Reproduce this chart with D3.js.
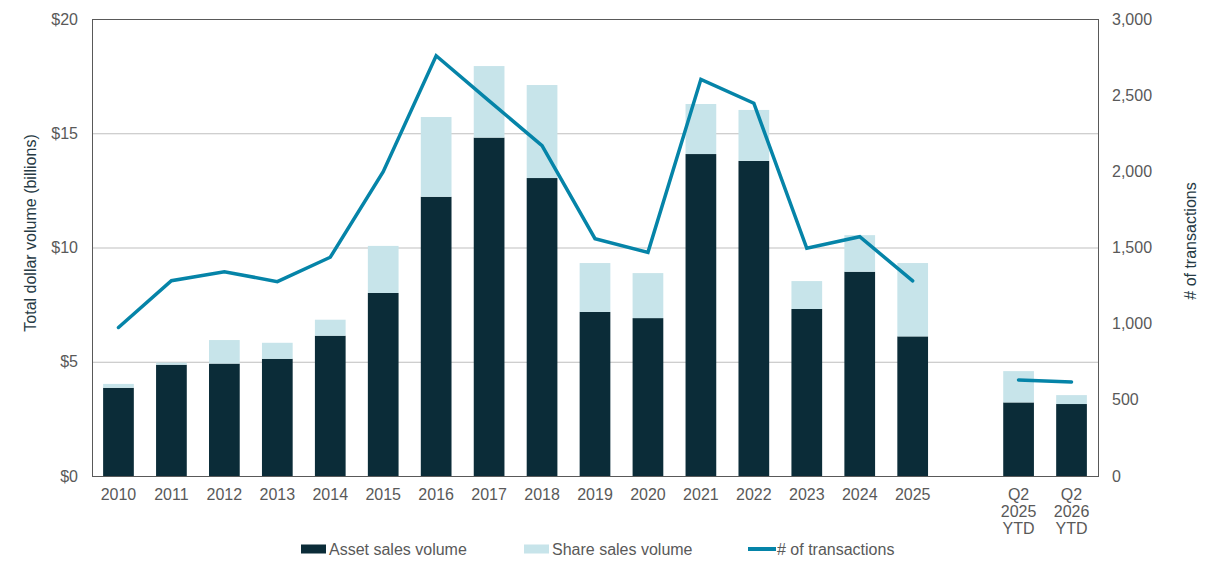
<!DOCTYPE html>
<html>
<head>
<meta charset="utf-8">
<script src="https://cdn.jsdelivr.net/npm/d3@7"></script>
<style>
  body { margin: 0; background: #fff; }
  text { font-family: "Liberation Sans", Arial, sans-serif; }
</style>
</head>
<body>
<script>
var width = 1221,
    height = 568;

// categories ("gap" is the empty slot between 2025 and the YTD bars)
var categories = ["2010", "2011", "2012", "2013", "2014", "2015", "2016", "2017", "2018",
                  "2019", "2020", "2021", "2022", "2023", "2024", "2025", "gap", "Q2 2025 YTD", "Q2 2026 YTD"];
var tickLabels = [["2010"], ["2011"], ["2012"], ["2013"], ["2014"], ["2015"], ["2016"], ["2017"], ["2018"],
                  ["2019"], ["2020"], ["2021"], ["2022"], ["2023"], ["2024"], ["2025"], [""],
                  ["Q2", "2025", "YTD"], ["Q2", "2026", "YTD"]];

// $ billions
var assetSales = [3.86, 4.87, 4.92, 5.13, 6.14, 8.01, 12.22, 14.81, 13.04, 7.18, 6.91, 14.09, 13.79, 7.31, 8.94, 6.11, null, 3.22, 3.15];
var shareSales = [0.17, 0.09, 1.03, 0.70, 0.70, 2.06, 3.49, 3.13, 4.07, 2.14, 1.97, 2.19, 2.23, 1.22, 1.60, 3.21, null, 1.37, 0.39];
// number of transactions
var transactions = [975, 1282, 1341, 1276, 1436, 1998, 2759, 2463, 2168, 1558, 1468, 2604, 2447, 1495, 1571, 1281, null, 631, 617];

var leftTicks = [0, 5, 10, 15, 20];
var rightTicks = [0, 500, 1000, 1500, 2000, 2500, 3000];

var margin = { top: 19, right: 123, bottom: 92, left: 92 };
var plotW = width - margin.left - margin.right,
    plotH = height - margin.top - margin.bottom;

var svg = d3.select("body")
            .append("svg")
            .attr("width", width)
            .attr("height", height);

var g = svg.append("g")
           .attr("transform", "translate(" + margin.left + "," + margin.top + ")");

var x = d3.scaleBand()
          .domain(categories)
          .range([0, plotW])
          .paddingInner(0.42)
          .paddingOuter(0.21);

var yLeft = d3.scaleLinear().domain([0, 20]).range([plotH, 0]);
var yRight = d3.scaleLinear().domain([0, 3000]).range([plotH, 0]);

// gridlines
g.selectAll(".grid")
 .data(leftTicks.slice(1, -1))
 .enter()
 .append("line")
 .attr("x1", 0)
 .attr("x2", plotW)
 .attr("y1", function(d) { return yLeft(d) + 0.5; })
 .attr("y2", function(d) { return yLeft(d) + 0.5; })
 .attr("stroke", "#bfbfbf")
 .attr("stroke-width", 1);

// stacked bars
var rows = categories.map(function(c, i) {
    return { cat: c, asset: assetSales[i], share: shareSales[i], tx: transactions[i] };
});
var barRows = rows.filter(function(d) { return d.asset != null; });

g.selectAll(".asset")
 .data(barRows)
 .enter()
 .append("rect")
 .attr("x", function(d) { return x(d.cat); })
 .attr("width", x.bandwidth())
 .attr("y", function(d) { return yLeft(d.asset); })
 .attr("height", function(d) { return yLeft(0) - yLeft(d.asset); })
 .attr("fill", "#0b2c38");

g.selectAll(".share")
 .data(barRows)
 .enter()
 .append("rect")
 .attr("x", function(d) { return x(d.cat); })
 .attr("width", x.bandwidth())
 .attr("y", function(d) { return yLeft(d.asset + d.share); })
 .attr("height", function(d) { return yLeft(d.asset) - yLeft(d.asset + d.share); })
 .attr("fill", "#c7e4ea");

// transactions line (breaks over the gap)
var line = d3.line()
             .defined(function(d) { return d.tx != null; })
             .x(function(d) { return x(d.cat) + x.bandwidth() / 2; })
             .y(function(d) { return yRight(d.tx); });

g.append("path")
 .datum(rows)
 .attr("d", line)
 .attr("fill", "none")
 .attr("stroke", "#0584a8")
 .attr("stroke-width", 3.5)
 .attr("stroke-linecap", "round");

// frame
g.append("rect")
 .attr("x", 0.5)
 .attr("y", 0.5)
 .attr("width", plotW)
 .attr("height", plotH)
 .attr("fill", "none")
 .attr("stroke", "#595959")
 .attr("stroke-width", 1);

// left axis labels
g.selectAll(".ltick")
 .data(leftTicks)
 .enter()
 .append("text")
 .attr("x", -14)
 .attr("y", function(d) { return yLeft(d); })
 .attr("dy", "0.35em")
 .attr("text-anchor", "end")
 .attr("font-size", "16px")
 .attr("fill", "#595959")
 .text(function(d) { return "$" + d; });

// right axis labels
g.selectAll(".rtick")
 .data(rightTicks)
 .enter()
 .append("text")
 .attr("x", plotW + 14)
 .attr("y", function(d) { return yRight(d); })
 .attr("dy", "0.35em")
 .attr("text-anchor", "start")
 .attr("font-size", "16px")
 .attr("fill", "#595959")
 .text(function(d) { return d3.format(",")(d); });

// x labels
var xl = g.selectAll(".xtick")
          .data(categories)
          .enter()
          .append("text")
          .attr("text-anchor", "middle")
          .attr("font-size", "16px")
          .attr("fill", "#595959")
          .attr("transform", function(d) {
              return "translate(" + (x(d) + x.bandwidth() / 2) + "," + (plotH + 24) + ")";
          });

xl.selectAll("tspan")
  .data(function(d, i) { return tickLabels[i]; })
  .enter()
  .append("tspan")
  .attr("x", 0)
  .attr("dy", function(d, i) { return i === 0 ? 0 : 17; })
  .text(function(d) { return d; });

// axis titles
svg.append("text")
   .attr("transform", "translate(36," + (margin.top + 214) + ") rotate(-90)")
   .attr("text-anchor", "middle")
   .attr("font-size", "16px")
   .attr("fill", "#263a44")
   .text("Total dollar volume (billions)");

svg.append("text")
   .attr("transform", "translate(1196," + (margin.top + 222) + ") rotate(-90)")
   .attr("text-anchor", "middle")
   .attr("font-size", "16px")
   .attr("fill", "#263a44")
   .text("# of transactions");

// legend
var legend = [
    { label: "Asset sales volume", color: "#0b2c38", type: "rect", x: 301 },
    { label: "Share sales volume", color: "#c7e4ea", type: "rect", x: 524 },
    { label: "# of transactions", color: "#0584a8", type: "line", x: 748 }
];

var lg = svg.selectAll(".legend")
            .data(legend)
            .enter()
            .append("g")
            .attr("transform", function(d) { return "translate(" + d.x + ",549)"; });

lg.filter(function(d) { return d.type === "rect"; })
  .append("rect")
  .attr("x", 0)
  .attr("y", -4.5)
  .attr("width", 25)
  .attr("height", 9)
  .attr("fill", function(d) { return d.color; });

lg.filter(function(d) { return d.type === "line"; })
  .append("line")
  .attr("x1", 0)
  .attr("x2", 28)
  .attr("y1", 0)
  .attr("y2", 0)
  .attr("stroke", function(d) { return d.color; })
  .attr("stroke-width", 4);

lg.append("text")
  .attr("x", function(d) { return d.type === "line" ? 29 : 28; })
  .attr("y", 0)
  .attr("dy", "0.35em")
  .attr("font-size", "16px")
  .attr("fill", "#595959")
  .text(function(d) { return d.label; });
</script>
</body>
</html>
